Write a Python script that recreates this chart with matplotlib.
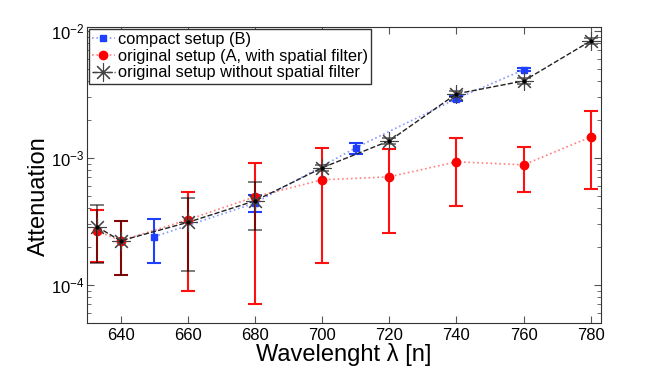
import matplotlib
matplotlib.use("Agg")
import matplotlib.pyplot as plt
import numpy as np

plt.rcParams['font.family'] = ['Liberation Sans', 'DejaVu Sans']
plt.rcParams['mathtext.default'] = 'regular'

# compact setup (B)
wl_b = [650, 680, 710, 740, 760]
att_b = [2.39e-4, 4.4e-4, 1.2e-3, 2.92e-3, 4.93e-3]
lo_b = [1.49e-4, 3.75e-4, 1.08e-3, 2.8e-3, 4.8e-3]
hi_b = [3.31e-4, 5.1e-4, 1.31e-3, 3.05e-3, 5.05e-3]

# original setup (A, with spatial filter)
wl_a = [633, 640, 660, 680, 700, 720, 740, 760, 780]
att_a = [2.66e-4, 2.22e-4, 3.25e-4, 4.93e-4, 6.71e-4, 7.08e-4, 9.3e-4, 8.8e-4, 1.46e-3]
lo_a = [1.5e-4, 1.2e-4, 8.97e-5, 7.1e-5, 1.49e-4, 2.58e-4, 4.19e-4, 5.4e-4, 5.7e-4]
hi_a = [3.89e-4, 3.19e-4, 5.4e-4, 9.14e-4, 1.2e-3, 1.18e-3, 1.44e-3, 1.22e-3, 2.34e-3]

# original setup without spatial filter
wl_o = [633, 640, 660, 680, 700, 720, 740, 760, 780]
att_o = [2.86e-4, 2.22e-4, 3.1e-4, 4.58e-4, 8.34e-4, 1.36e-3, 3.19e-3, 4.03e-3, 8.34e-3]
lo_o = [1.49e-4, 1.2e-4, 1.29e-4, 2.71e-4, 7.9e-4, 1.29e-3, 3.03e-3, 3.83e-3, 7.9e-3]
hi_o = [4.27e-4, 3.19e-4, 4.84e-4, 6.47e-4, 8.8e-4, 1.43e-3, 3.35e-3, 4.23e-3, 8.8e-3]

xticks = [640, 660, 680, 700, 720, 740, 760, 780]

fig = plt.figure(figsize=(6.64, 3.66), dpi=100)
ax = fig.add_axes([0.131, 0.1175, 0.774, 0.8085])


def yerr(att, lo, hi):
    att = np.array(att)
    return [att - np.array(lo), np.array(hi) - att]


ax.errorbar(wl_b, att_b, yerr=yerr(att_b, lo_b, hi_b), fmt='none',
            ecolor='#1f3fff', elinewidth=1.5, capsize=5, capthick=1.5)
ax.plot(wl_b, att_b, ':', color='#8899ff', lw=1.2, marker='s',
        ms=5, mfc='#1f3fff', mec='#1f3fff', label='compact setup (B)')

ax.errorbar(wl_a, att_a, yerr=yerr(att_a, lo_a, hi_a), fmt='none',
            ecolor='#ff1010', elinewidth=1.5, capsize=5, capthick=1.5)
ax.plot(wl_a, att_a, ':', color='#ff8080', lw=1.2, marker='o',
        ms=6, mfc='#ff0000', mec='#ff0000',
        label='original setup (A, with spatial filter)')

ax.errorbar(wl_o, att_o, yerr=yerr(att_o, lo_o, hi_o), fmt='none',
            ecolor='black', elinewidth=1.2, capsize=5, capthick=1.2, alpha=0.6)
ax.plot(wl_o, att_o, '--', color='#222222', lw=1.0, marker=(8, 2, 0),
        ms=13, mew=0.8, mec='#444444',
        label='original setup without spatial filter')
ax.plot(wl_o, att_o, 'k.', ms=4)

ax.set_yscale('log')
ax.set_xlim(630, 783)
ax.set_ylim(5e-5, 1.07e-2)
ax.set_xticks(xticks)
ax.tick_params(which='both', direction='in', top=True, right=True,
               colors='#555555', labelcolor='black', labelsize=12)
ax.tick_params(axis='y', pad=2)
ax.tick_params(which='major', length=5)
ax.tick_params(which='minor', length=3)
for s in ax.spines.values():
    s.set_color('#333333')

ax.set_xlabel('Wavelenght λ [n]', fontsize=17, labelpad=0)
ax.set_ylabel('Attenuation', fontsize=17)
ax.yaxis.set_label_coords(-0.072, 0.43)

ax.legend(loc='upper left', fontsize=11.8, fancybox=False, framealpha=1,
          edgecolor='#333333', borderpad=0.2, labelspacing=0.1,
          handlelength=1.4, handletextpad=0.2, borderaxespad=0.1)

fig.savefig('out.png', dpi=100)
